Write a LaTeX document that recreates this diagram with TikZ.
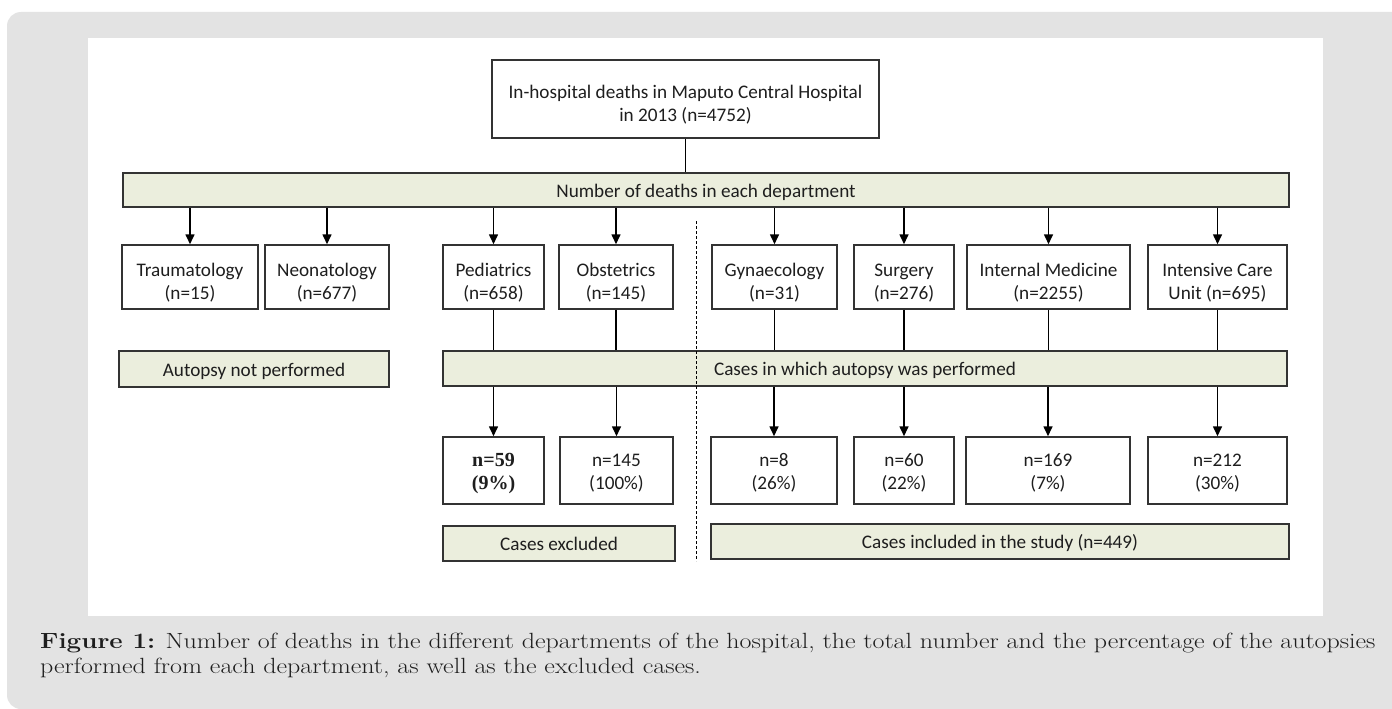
\documentclass[tikz,border=0pt]{standalone}
\usepackage{fontspec}
\setmainfont{Carlito}
\newfontfamily\capfont[FakeStretch=1.18]{Latin Modern Roman}
\newfontfamily\serifb{Liberation Serif}
\usetikzlibrary{arrows.meta}
\definecolor{bggray}{HTML}{E3E3E3}
\definecolor{barfill}{HTML}{EBEEDD}
\definecolor{edgecol}{HTML}{333333}
\definecolor{txtcol}{HTML}{1E1E1E}
% struts that place the text low in the boxes, as in the reference
\newcommand\twoln[3]{\rule{0pt}{#1}#2\\#3\rule[-6pt]{0pt}{6pt}}
\newcommand\oneln[1]{\rule[-4pt]{0pt}{22pt}#1}
\begin{document}
\begin{tikzpicture}[x=1pt,y=-1pt,
  box/.style={draw=edgecol, line width=1.5pt, fill=white, inner sep=0pt, align=center,
    font=\fontsize{19.2}{23}\selectfont, text=txtcol},
  barbox/.style={box, fill=barfill},
  conn/.style={line width=1.6pt, black},
  arr/.style={conn, -{Triangle[length=10pt,width=9pt]}},
  capstyle/.style={inner sep=0pt, anchor=base west, text=txtcol, font=\capfont\fontsize{22}{25}\selectfont}]
\useasboundingbox (0,0) rectangle (1392,709);
\begin{scope}
\clip (0,0) rectangle (1392,709);
\fill[white] (0,0) rectangle (1392,709);
\fill[bggray, rounded corners=14pt] (7,12) rectangle (1430,709);
\fill[white] (88,38) rectangle (1323,616);
\end{scope}
% top
\node[box, minimum width=387pt, minimum height=78pt] (top) at (685.5,99) {\twoln{28pt}{In-hospital deaths in Maputo Central Hospital}{in 2013 (n=4752)}};
\node[barbox, minimum width=1166pt, minimum height=34pt] (bar1) at (706,190) {\oneln{Number of deaths in each department}};
% departments
\node[box, minimum width=136pt, minimum height=64pt] (trauma) at (190,277) {\twoln{28pt}{Traumatology}{(n=15)}};
\node[box, minimum width=124pt, minimum height=64pt] (neo) at (327,277) {\twoln{28pt}{Neonatology}{(n=677)}};
\node[box, minimum width=101pt, minimum height=64pt] (ped) at (493.5,277) {\twoln{28pt}{Pediatrics}{(n=658)}};
\node[box, minimum width=114pt, minimum height=64pt] (obs) at (616,277) {\twoln{28pt}{Obstetrics}{(n=145)}};
\node[box, minimum width=125pt, minimum height=64pt] (gyn) at (774.5,277) {\twoln{28pt}{Gynaecology}{(n=31)}};
\node[box, minimum width=100pt, minimum height=64pt] (surg) at (904,277) {\twoln{28pt}{Surgery}{(n=276)}};
\node[box, minimum width=163pt, minimum height=64pt] (intm) at (1048.5,277) {\twoln{28pt}{Internal Medicine}{(n=2255)}};
\node[box, minimum width=139pt, minimum height=64pt] (icu) at (1217.5,277) {\twoln{28pt}{Intensive Care}{Unit (n=695)}};
% middle bars
\node[barbox, minimum width=270pt, minimum height=36pt] (noaut) at (254,369) {\oneln{Autopsy not performed}};
\node[barbox, minimum width=844pt, minimum height=35pt] (cases) at (865,368.5) {\oneln{Cases in which autopsy was performed}};
% results
\node[box, minimum width=101pt, minimum height=67pt, font=\serifb\bfseries\fontsize{20}{23}\selectfont] (r59) at (493.5,470.5) {\twoln{21pt}{n=59}{(9\%)}};
\node[box, minimum width=113pt, minimum height=67pt] (r145) at (616.5,470.5) {\twoln{21pt}{n=145}{(100\%)}};
\node[box, minimum width=126pt, minimum height=67pt] (r8) at (774,470.5) {\twoln{21pt}{n=8}{(26\%)}};
\node[box, minimum width=100pt, minimum height=67pt] (r60) at (904,470.5) {\twoln{21pt}{n=60}{(22\%)}};
\node[box, minimum width=164pt, minimum height=67pt] (r169) at (1048,470.5) {\twoln{21pt}{n=169}{(7\%)}};
\node[box, minimum width=139pt, minimum height=67pt] (r212) at (1217.5,470.5) {\twoln{21pt}{n=212}{(30\%)}};
% bottom bars
\node[barbox, minimum width=232pt, minimum height=35pt] (excl) at (559,543.5) {\oneln{Cases excluded}};
\node[barbox, minimum width=578pt, minimum height=35pt] (incl) at (1000,541.5) {\oneln{Cases included in the study (n=449)}};
% dashed separator
\coordinate (dtop) at (696,221);
\coordinate (dbot) at (696,561);
\draw[line width=0.9pt, dash pattern=on 3pt off 2pt] (dtop) -- (dbot);
% connectors
\draw[conn] (top.south) -- (top.south |- bar1.north);
\foreach \n in {trauma,neo,ped,obs,gyn,surg,intm,icu}
  \draw[arr] (bar1.south -| \n.north) -- (\n.north);
\foreach \n in {ped,obs,gyn,surg,intm,icu}
  \draw[conn] (\n.south) -- (\n.south |- cases.north);
\foreach \n in {r59,r145,r8,r60,r169,r212}
  \draw[arr] (cases.south -| \n.north) -- (\n.north);
% caption
\node[capstyle] (cap1) at (40,648) {\textbf{Figure 1:} Number of deaths in the different departments of the hospital, the total number and the percentage of the autopsies};
\node[capstyle] (cap2) at (40,673) {performed from each department, as well as the excluded cases.};
\end{tikzpicture}
\end{document}
